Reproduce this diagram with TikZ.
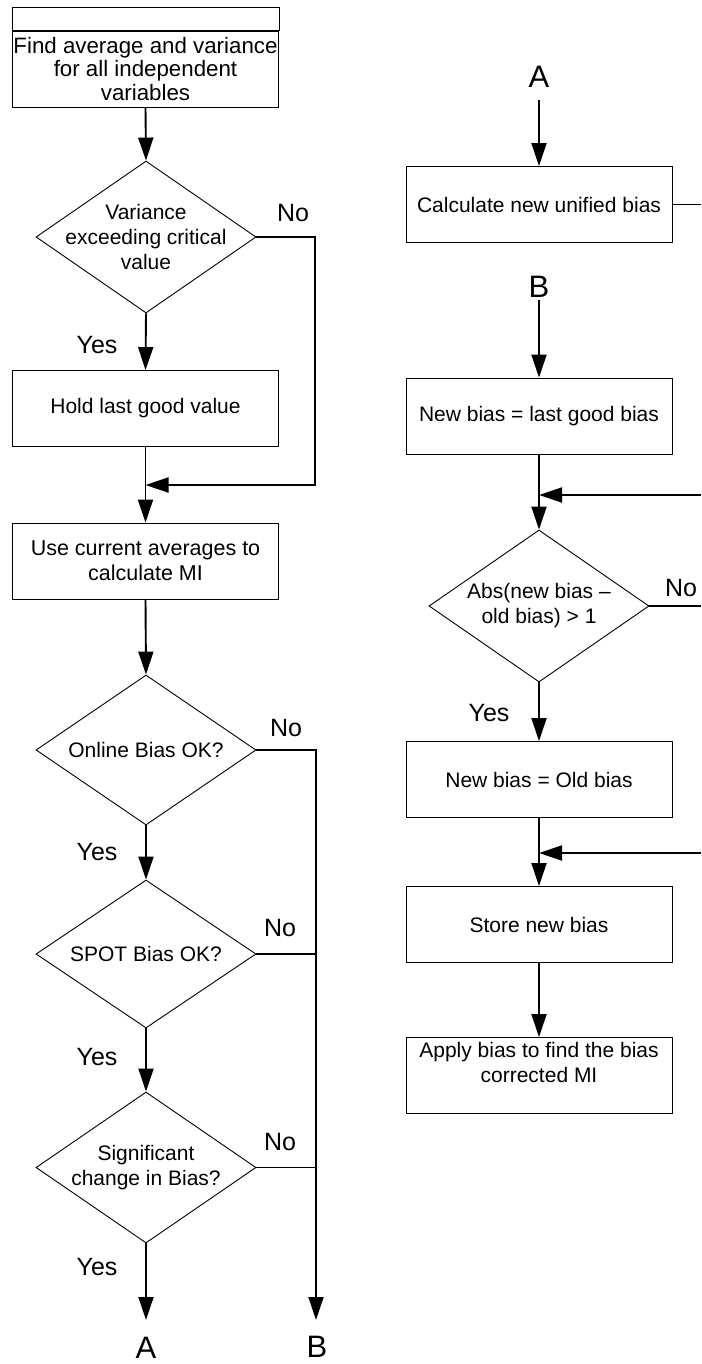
\documentclass[tikz,border=0pt]{standalone}
\usepackage{fontspec}
\setmainfont{Liberation Sans}
\usetikzlibrary{shapes.geometric,arrows.meta}
\begin{document}
\begin{tikzpicture}[x=1pt,y=-1pt,
  boxtext/.style={align=center, font=\fontsize{21}{25}\selectfont},
  box/.style={draw, line width=0.9pt, minimum width=266pt, minimum height=76pt,
              inner sep=0pt, boxtext},
  dec/.style={draw, diamond, line width=0.9pt, minimum width=220pt,
              minimum height=152pt, inner sep=0pt},
  yn/.style={font=\fontsize{25}{30}\selectfont, inner sep=0pt},
  jump/.style={font=\fontsize{31}{36}\selectfont, inner sep=0pt},
  conn/.style={line width=1.9pt},
  flow/.style={conn, -{Triangle[length=23pt,width=15pt]}}
]
\useasboundingbox (0,0) rectangle (701,1364);

% ---------------- left column ----------------
\node[box, font=\fontsize{22.3}{23.5}\selectfont] (find) at (145.5,69)
  {Find average and variance\\for all independent\\variables};
\draw[line width=0.9pt] (find.north west) rectangle ([yshift=23pt]find.north east);

\node[dec, label={[boxtext]center:{Variance\\exceeding critical\\value}}] (d1) at (146,237) {};
\node[box] (hold) at (145.5,408.5) {Hold last good value};
\node[box, font=\fontsize{21.5}{25}\selectfont] (use) at (145.5,561) {Use current averages to\\calculate MI};
\node[dec, minimum height=150pt, label={[boxtext]center:Online Bias OK?}] (d2) at (146,750) {};
\node[dec, minimum height=148pt, label={[boxtext]center:SPOT Bias OK?}] (d3) at (146,954) {};
\node[dec, minimum height=151pt, label={[boxtext]center:{Significant\\change in Bias?}}] (d4) at (146,1167.5) {};

\coordinate (j1) at (315,485);
\coordinate (A1in) at (146,1320);
\coordinate (busB) at (316,1320);
\node[jump] (A1) at (146,1348) {A};
\node[jump] (B1) at (317,1347) {B};

\draw[flow] (find.south) -- (d1.north);
\draw[flow] (d1.south) -- (hold.north);
\draw[flow] (hold.south) -- (use.north);
\draw[flow] (d1.east) -| (j1) -- (hold.south |- j1);
\draw[flow] (use.south) -- (d2.north);
\draw[flow] (d2.south) -- (d3.north);
\draw[flow] (d3.south) -- (d4.north);
\draw[flow] (d4.south) -- (A1in);
\draw[flow] (d2.east) -| (busB);
\draw[conn] (d3.east) -- (d3.east -| busB);
\draw[conn] (d4.east) -- (d4.east -| busB);

\node[yn] (n1) at (293,213) {No};
\node[yn] (y1) at (97,345) {Yes};
\node[yn] (n2) at (286,728) {No};
\node[yn] (y2) at (97,852) {Yes};
\node[yn] (n3) at (280,928) {No};
\node[yn] (y3) at (97,1057) {Yes};
\node[yn] (n4) at (280,1142) {No};
\node[yn] (y4) at (97,1267) {Yes};

% ---------------- right column ----------------
\node[jump] (A2) at (539,77) {A};
\coordinate (A2out) at (539,100);
\node[box] (calc) at (539,204.5) {Calculate new unified bias};
\coordinate (cOut) at (701,204.5);

\node[jump] (B2) at (539,287) {B};
\coordinate (B2out) at (539,300);
\node[box] (newb) at (539,416) {New bias = last good bias};
\coordinate (m2) at (539,495);
\coordinate (e2) at (701,495);
\node[dec, label={[boxtext]center:{Abs(new bias --\\old bias) > 1}}] (d5) at (539,606) {};
\coordinate (e5) at (701,606);
\node[box] (old) at (539,779.5) {New bias = Old bias};
\coordinate (m3) at (539,853);
\coordinate (e3) at (701,853);
\node[box] (store) at (539,924.5) {Store new bias};
\node[box, label={[boxtext, yshift=13pt]center:{Apply bias to find the bias\\corrected MI}}] (apply) at (539,1075.5) {};

\draw[flow] (A2out) -- (calc.north);
\draw[conn] (calc.east) -- (cOut);
\draw[flow] (B2out) -- (newb.north);
\draw[flow] (newb.south) -- (d5.north);
\draw[flow] (e2) -- (m2);
\draw[conn] (d5.east) -- (e5);
\draw[flow] (d5.south) -- (old.north);
\draw[flow] (old.south) -- (store.north);
\draw[flow] (e3) -- (m3);
\draw[flow] (store.south) -- (apply.north);

\node[yn] (n5) at (681,588) {No};
\node[yn] (y5) at (489,713) {Yes};
\end{tikzpicture}
\end{document}
